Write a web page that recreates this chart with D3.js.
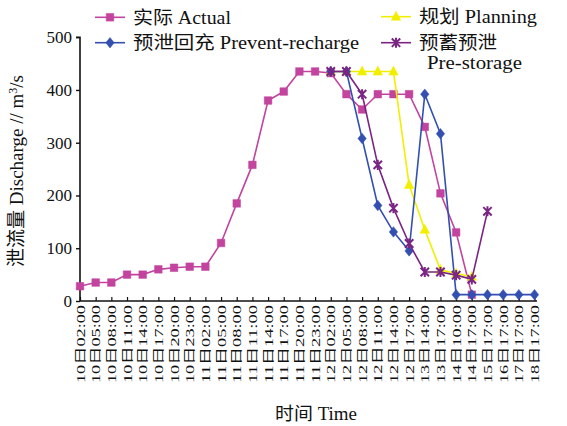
<!DOCTYPE html>
<html><head><meta charset="utf-8">
<script src="https://cdn.jsdelivr.net/npm/d3@7"></script>
<style>
body{margin:0;background:#fff;}
svg{display:block;}
text{font-family:'Liberation Serif','Noto Sans CJK SC',serif;fill:#111;}
</style></head>
<body><svg id="c" width="567" height="426"></svg>
<script>
const categories = ["10日02:00","10日05:00","10日08:00","10日11:00","10日14:00","10日17:00","10日20:00","10日23:00",
"11日02:00","11日05:00","11日08:00","11日11:00","11日14:00","11日17:00","11日20:00","11日23:00",
"12日02:00","12日05:00","12日08:00","12日11:00","12日14:00","12日17:00",
"13日14:00","13日17:00","14日10:00","14日17:00","15日17:00","16日17:00","17日17:00","18日17:00"];
const actual = [28,35,35,50,50,60,63,65,65,110,185,258,380,397,435,435,432,392,363,392,392,392,330,204,130,12];
const preventStart = 16;
const preventRecharge = [435,435,308,181,131,95,392,317,12,12,12,12,12,12];
const planningStart = 16;
const planning = [435,435,435,435,435,220,135,59,52,46];
const preStart = 16;
const preStorage = [435,435,392,258,176,109,55,55,49,41,170];
const yTicks = [0,100,200,300,400,500];

const svg = d3.select("#c");
const x = d3.scalePoint().domain(categories).range([80, 534.5]);
const y = d3.scaleLinear().domain([0,500]).range([301, 37.2]);

const colors = {actual:"#C2449E", prevent:"#3350B0", planning:"#F2EE00", pre:"#7A2484"};

// axes
const yAxis = d3.axisLeft(y).tickValues(yTicks).tickSize(4).tickPadding(4);
const gy = svg.append("g").attr("transform","translate(80,0)").call(yAxis);
gy.select(".domain").attr("stroke","#111").attr("stroke-width",1.6).attr("d","M-4,37.2H0V301");
gy.selectAll(".tick line").attr("stroke","#111").attr("stroke-width",1.4);
gy.selectAll(".tick text").attr("font-size",17).style("font-family","'Liberation Serif',serif").attr("fill","#111");

const xAxis = d3.axisBottom(x).tickSize(-4).tickFormat("");
const gx = svg.append("g").attr("transform","translate(0,301)").call(xAxis);
gx.select(".domain").attr("stroke","#111").attr("stroke-width",1.6).attr("d","M80,0H537");
gx.selectAll(".tick line").attr("stroke","#111").attr("stroke-width",1.2);

// x labels (rotated)
svg.append("g").selectAll("text").data(categories).join("text")
  .attr("transform", d => `translate(${x(d)+4.5},305) rotate(-90)`)
  .attr("text-anchor","end")
  .attr("font-size",12)
  .attr("textLength",78).attr("lengthAdjust","spacingAndGlyphs")
  .text(d => d);

// series builder
function series(vals, start){ return vals.map((v,i)=>({c:categories[start+i], v})); }
const line = d3.line().x(d=>x(d.c)).y(d=>y(d.v));

function markerPath(type, s){
  if(type==="square") return `M${-s},${-s}h${2*s}v${2*s}h${-2*s}Z`;
  if(type==="diamond") return `M0,${-s*1.25}L${s},0L0,${s*1.25}L${-s},0Z`;
  if(type==="triangle") return `M0,${-s*1.2}L${s*1.05},${s*0.8}L${-s*1.05},${s*0.8}Z`;
  if(type==="star") return `M${-s},${-s}L${s},${s}M${s},${-s}L${-s},${s}M0,${-s*1.2}V${s*1.2}`;
}

const defs = [
  {key:"actual", data:series(actual,0), color:colors.actual, m:"square", s:3.8},
  {key:"prevent", data:series(preventRecharge,preventStart), color:colors.prevent, m:"diamond", s:4.2},
  {key:"planning", data:series(planning,planningStart), color:colors.planning, m:"triangle", s:4.5},
  {key:"pre", data:series(preStorage,preStart), color:colors.pre, m:"star", s:4.2}
];
const drawOrder = ["actual","planning","prevent","pre"];
drawOrder.forEach(k=>{
  const d = defs.find(e=>e.key===k);
  const g = svg.append("g");
  g.append("path").datum(d.data).attr("d",line).attr("fill","none").attr("stroke",d.color).attr("stroke-width",1.6);
  g.selectAll("path.m").data(d.data).join("path").attr("class","m")
    .attr("transform",p=>`translate(${x(p.c)},${y(p.v)})`)
    .attr("d",markerPath(d.m,d.s))
    .attr("fill", d.m==="star" ? "none" : d.color)
    .attr("stroke", d.color).attr("stroke-width", d.m==="star"?2:0.5);
});

// legend
const legend = [
  {lx:95, ly:17.3, color:colors.actual, m:"square", s:3.8, lines:[["实际 Actual",98]]},
  {lx:95, ly:42.7, color:colors.prevent, m:"diamond", s:4.2, lines:[["预泄回充 Prevent-recharge",226]]},
  {lx:381, ly:16.7, color:colors.planning, m:"triangle", s:4.5, lines:[["规划 Planning",118]]},
  {lx:381, ly:42.7, color:colors.pre, m:"star", s:4.2, lines:[["预蓄预泄",78],["Pre-storage",95]]}
];
legend.forEach(l=>{
  const g = svg.append("g");
  g.append("line").attr("x1",l.lx).attr("x2",l.lx+30).attr("y1",l.ly).attr("y2",l.ly).attr("stroke",l.color).attr("stroke-width",1.6);
  g.append("path").attr("transform",`translate(${l.lx+15},${l.ly})`).attr("d",markerPath(l.m,l.s))
    .attr("fill", l.m==="star"?"none":l.color).attr("stroke",l.color).attr("stroke-width", l.m==="star"?2:0.5);
  l.lines.forEach((t,i)=>{
    g.append("text").attr("x", l.lx+38 + (i>0?8:0)).attr("y", l.ly+6.5 + i*19.5).attr("font-size",18)
      .attr("textLength",t[1]).attr("lengthAdjust","spacingAndGlyphs").text(t[0]);
  });
});

// axis titles
svg.append("text").attr("x",275).attr("y",420).attr("font-size",18)
  .attr("textLength",82).attr("lengthAdjust","spacingAndGlyphs").text("时间 Time");
svg.append("text").attr("transform","translate(23,171) rotate(-90)").attr("text-anchor","middle").attr("font-size",19)
  .html("泄流量 Discharge // m<tspan dy='-6' font-size='12'>3</tspan><tspan dy='6'>/s</tspan>");
</script></body></html>
